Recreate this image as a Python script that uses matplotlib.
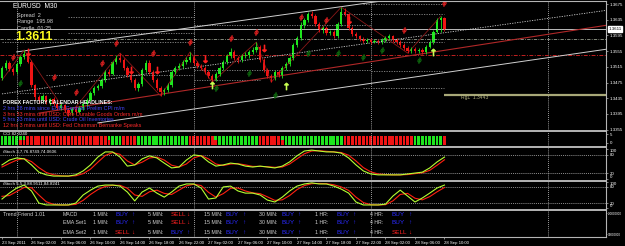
import numpy as np
import matplotlib
matplotlib.use("Agg")
import matplotlib.pyplot as plt
from matplotlib.lines import Line2D

plt.rcParams['font.family'] = ['Liberation Sans', 'DejaVu Sans']

# EURUSD M30 candles, bar 0 = 23 Sep 22:00
open_ = [1.3486, 1.3512, 1.3525, 1.3509, 1.3502, 1.3522, 1.3540, 1.3548, 1.3527, 1.3469,
         1.3438, 1.3430, 1.3441, 1.3425, 1.3433, 1.3420, 1.3410, 1.3418, 1.3405, 1.3397,
         1.3407, 1.3400, 1.3410, 1.3420, 1.3430, 1.3448, 1.3461, 1.3466, 1.3481, 1.3502,
         1.3497, 1.3527, 1.3537, 1.3532, 1.3512, 1.3494, 1.3481, 1.3461, 1.3471, 1.3507,
         1.3525, 1.3502, 1.3481, 1.3461, 1.3451, 1.3456, 1.3469, 1.3502, 1.3512, 1.3517,
         1.3527, 1.3532, 1.3540, 1.3525, 1.3517, 1.3512, 1.3502, 1.3492, 1.3481, 1.3497,
         1.3512, 1.3527, 1.3543, 1.3553, 1.3537, 1.3532, 1.3543, 1.3545, 1.3553, 1.3558,
         1.3565, 1.3532, 1.3507, 1.3492, 1.3486, 1.3502, 1.3494, 1.3512, 1.3522, 1.3537,
         1.3571, 1.3588, 1.3621, 1.3634, 1.3650, 1.3644, 1.3624, 1.3609, 1.3614, 1.3601,
         1.3604, 1.3593, 1.3624, 1.3655, 1.3650, 1.3614, 1.3599, 1.3593, 1.3586, 1.3581,
         1.3583, 1.3578, 1.3581, 1.3578, 1.3583, 1.3588, 1.3593, 1.3583, 1.3578, 1.3571,
         1.3563, 1.3555, 1.3560, 1.3555, 1.3558, 1.3553, 1.3565, 1.3578, 1.3604, 1.3634,
         1.3639]
high = [1.3517, 1.3532, 1.3530, 1.3514, 1.3527, 1.3545, 1.3558, 1.3555, 1.3532, 1.3471,
        1.3443, 1.3446, 1.3443, 1.3436, 1.3438, 1.3425, 1.3423, 1.3420, 1.3410, 1.3413,
        1.3415, 1.3415, 1.3425, 1.3436, 1.3453, 1.3466, 1.3471, 1.3486, 1.3507, 1.3509,
        1.3530, 1.3545, 1.3550, 1.3537, 1.3517, 1.3499, 1.3486, 1.3476, 1.3512, 1.3532,
        1.3532, 1.3507, 1.3486, 1.3466, 1.3461, 1.3474, 1.3507, 1.3517, 1.3525, 1.3532,
        1.3540, 1.3553, 1.3545, 1.3530, 1.3522, 1.3517, 1.3507, 1.3497, 1.3502, 1.3517,
        1.3532, 1.3548, 1.3563, 1.3558, 1.3543, 1.3548, 1.3553, 1.3558, 1.3565, 1.3578,
        1.3571, 1.3537, 1.3512, 1.3497, 1.3507, 1.3507, 1.3517, 1.3527, 1.3543, 1.3576,
        1.3593, 1.3629, 1.3639, 1.3655, 1.3657, 1.3650, 1.3629, 1.3619, 1.3619, 1.3609,
        1.3609, 1.3629, 1.3667, 1.3665, 1.3652, 1.3619, 1.3604, 1.3596, 1.3591, 1.3588,
        1.3588, 1.3586, 1.3586, 1.3588, 1.3593, 1.3599, 1.3596, 1.3588, 1.3583, 1.3576,
        1.3568, 1.3565, 1.3565, 1.3563, 1.3563, 1.3571, 1.3583, 1.3609, 1.3639, 1.3644,
        1.3642]
low = [1.3481, 1.3507, 1.3504, 1.3494, 1.3497, 1.3517, 1.3535, 1.3525, 1.3464, 1.3430,
       1.3423, 1.3425, 1.3420, 1.3418, 1.3415, 1.3405, 1.3405, 1.3400, 1.3390, 1.3392,
       1.3395, 1.3397, 1.3405, 1.3415, 1.3428, 1.3443, 1.3456, 1.3461, 1.3476, 1.3492,
       1.3494, 1.3522, 1.3527, 1.3507, 1.3489, 1.3476, 1.3456, 1.3453, 1.3466, 1.3502,
       1.3497, 1.3476, 1.3456, 1.3441, 1.3443, 1.3451, 1.3464, 1.3497, 1.3507, 1.3512,
       1.3522, 1.3527, 1.3520, 1.3512, 1.3507, 1.3497, 1.3486, 1.3476, 1.3479, 1.3492,
       1.3507, 1.3522, 1.3537, 1.3532, 1.3525, 1.3527, 1.3537, 1.3537, 1.3548, 1.3553,
       1.3527, 1.3502, 1.3486, 1.3476, 1.3481, 1.3489, 1.3486, 1.3507, 1.3517, 1.3532,
       1.3565, 1.3583, 1.3614, 1.3629, 1.3639, 1.3619, 1.3604, 1.3601, 1.3596, 1.3596,
       1.3588, 1.3588, 1.3619, 1.3644, 1.3609, 1.3593, 1.3588, 1.3581, 1.3576, 1.3576,
       1.3573, 1.3576, 1.3573, 1.3573, 1.3578, 1.3583, 1.3578, 1.3573, 1.3565, 1.3558,
       1.3550, 1.3550, 1.3550, 1.3550, 1.3548, 1.3548, 1.3563, 1.3573, 1.3601, 1.3604,
       1.3606]
close = [1.3512, 1.3525, 1.3509, 1.3502, 1.3522, 1.3540, 1.3548, 1.3527, 1.3469, 1.3438,
         1.3430, 1.3441, 1.3425, 1.3433, 1.3420, 1.3410, 1.3418, 1.3405, 1.3397, 1.3407,
         1.3400, 1.3410, 1.3420, 1.3430, 1.3448, 1.3461, 1.3466, 1.3481, 1.3502, 1.3497,
         1.3527, 1.3537, 1.3532, 1.3512, 1.3494, 1.3481, 1.3461, 1.3471, 1.3507, 1.3525,
         1.3502, 1.3481, 1.3461, 1.3451, 1.3456, 1.3469, 1.3502, 1.3512, 1.3517, 1.3527,
         1.3532, 1.3540, 1.3525, 1.3517, 1.3512, 1.3502, 1.3492, 1.3481, 1.3497, 1.3512,
         1.3527, 1.3543, 1.3553, 1.3537, 1.3532, 1.3543, 1.3545, 1.3553, 1.3558, 1.3565,
         1.3532, 1.3507, 1.3492, 1.3486, 1.3502, 1.3494, 1.3512, 1.3522, 1.3537, 1.3571,
         1.3588, 1.3621, 1.3634, 1.3650, 1.3644, 1.3624, 1.3609, 1.3614, 1.3601, 1.3604,
         1.3593, 1.3624, 1.3655, 1.3650, 1.3614, 1.3599, 1.3593, 1.3586, 1.3581, 1.3583,
         1.3578, 1.3581, 1.3578, 1.3583, 1.3588, 1.3593, 1.3583, 1.3578, 1.3571, 1.3563,
         1.3555, 1.3560, 1.3555, 1.3558, 1.3553, 1.3565, 1.3578, 1.3604, 1.3634, 1.3639,
         1.3611]

bid = 1.3611
rgl = 1.3443
price_ticks = [1.3675, 1.3635, 1.3595, 1.3555, 1.3515, 1.3475, 1.3435, 1.3395, 1.3355]

# trend lines and zigzag (bar, price)
upper_chan_bar = [4, 120]
upper_chan_px = [1.3553, 1.3705]
mid_chan_bar = [0, 164]
mid_chan_px = [1.3446, 1.3659]
lower_chan_bar = [26, 164]
lower_chan_px = [1.3372, 1.3560]
red_trend_bar = [10, 164]
red_trend_px = [1.3397, 1.3621]
zz_bar = [0, 6, 18, 32, 43, 51, 57, 69, 73, 92, 110, 119]
zz_px = [1.3481, 1.3558, 1.3390, 1.3550, 1.3441, 1.3553, 1.3476, 1.3578, 1.3476, 1.3667, 1.3550, 1.3644]

# pivot levels: price, from bar, to bar
pivot_px = [1.3642, 1.3601, 1.3578, 1.3494, 1.3448, 1.3621, 1.3507, 1.3481,
            1.3675, 1.3650, 1.3578, 1.3504, 1.3461]
pivot_from = [18, 18, 0, 12, 4, 52, 52, 52, 98, 92, 100, 100, 98]
pivot_to = [52, 52, 52, 52, 16, 100, 100, 70, 120, 120, 120, 120, 120]
level_grey = 1.3586
level_red = 1.3545

# signal markers (bar, price)
sell_dot_bar = [3, 14, 20, 27, 31, 41, 51, 62, 69, 81, 88, 109, 120]
sell_dot_px = [1.3540, 1.3489, 1.3451, 1.3525, 1.3576, 1.3550, 1.3578, 1.3588, 1.3604, 1.3642, 1.3634, 1.3609, 1.3678]
sell_arr_bar = [7, 35, 42, 55, 71, 94]
sell_arr_px = [1.3553, 1.3507, 1.3507, 1.3535, 1.3563, 1.3634]
buy_arr_bar = [57, 77, 117]
buy_arr_px = [1.3469, 1.3466, 1.3553]
buy_dot_bar = [5, 58, 67, 74, 83, 91, 98, 103, 113]
buy_dot_px = [1.3474, 1.3461, 1.3499, 1.3443, 1.3550, 1.3550, 1.3540, 1.3558, 1.3532]

# CCI histogram colours per bar (G/R), upper and lower half
cci_top = ("GGGGGGG" "RRRRRRRRRRRRRRRRRRRRRR" "GGGG" "RRRR" "GGGGGGGGGGGGGG" "RRRRRRR"
           "GGGGGGGGGGGG" "RRRRRR" "GGGGGGGGGGGGGGGGG" "RRRRRRRRRRRRRRRRRRR" "GGGGGGGG" "R")
cci_bot = ("GGGGGRR" "RRRRRRRRRRRRRRRRRRRRRR" "RGGG" "RRRR" "GGGGGGGGGGGGGG" "RRRRRRR"
           "RGGGGGGGGGGG" "RRRRRR" "RGGGGGGGGGGGGGGGG" "RRRRRRRRRRRRRRRRRRR" "GGGGGGGG" "R")

# stochastics, every second bar
st_bar = list(range(0, 121, 2))
st1_main = [47, 63, 70, 67, 47, 23, 14, 10, 10, 10, 14, 27, 47, 73, 90, 90, 73, 43, 47, 67,
            77, 70, 53, 37, 40, 63, 80, 77, 57, 43, 47, 53, 50, 43, 40, 43, 40, 37, 43, 57,
            77, 93, 96, 93, 90, 90, 86, 70, 47, 27, 17, 14, 14, 14, 14, 17, 20, 23, 37, 57, 73]
st1_sig = [40, 52, 63, 68, 58, 38, 22, 14, 11, 10, 11, 18, 33, 56, 78, 88, 82, 60, 47, 56,
           70, 73, 63, 46, 40, 50, 70, 78, 67, 50, 45, 50, 51, 47, 42, 42, 41, 39, 40, 50,
           67, 84, 93, 94, 92, 90, 88, 79, 60, 38, 24, 17, 15, 14, 14, 15, 18, 21, 29, 46, 64]
st2_main = [35, 57, 76, 87, 65, 20, 13, 13, 13, 13, 20, 50, 68, 83, 87, 87, 83, 61, 28, 61,
            76, 57, 42, 61, 83, 91, 91, 76, 35, 39, 80, 83, 65, 57, 57, 50, 31, 24, 42, 65,
            83, 91, 95, 91, 91, 83, 72, 57, 24, 13, 13, 13, 16, 46, 68, 46, 24, 39, 57, 76, 87]
st2_sig = [45, 48, 63, 78, 77, 50, 25, 15, 13, 13, 15, 30, 52, 70, 82, 86, 86, 75, 50, 45,
           62, 68, 56, 52, 68, 84, 90, 85, 60, 42, 55, 75, 76, 65, 58, 55, 43, 30, 32, 48,
           70, 85, 92, 93, 92, 88, 80, 67, 42, 22, 14, 13, 14, 28, 52, 56, 38, 32, 44, 62, 78]

time_ticks = [0, 8, 16, 24, 32, 40, 48, 56, 64, 72, 80, 88, 96, 104, 112, 120]
time_labels = ["23 Sep 2011", "26 Sep 02:00", "26 Sep 06:00", "26 Sep 10:00", "26 Sep 14:00",
               "26 Sep 18:00", "26 Sep 22:00", "27 Sep 02:00", "27 Sep 06:00", "27 Sep 10:00",
               "27 Sep 14:00", "27 Sep 18:00", "27 Sep 22:00", "28 Sep 02:00", "28 Sep 06:00",
               "28 Sep 10:00"]
day_breaks = [4, 52, 100, 148]

headlines = ["2 hrs 28 mins since EUR: German Prelim CPI m/m",
             "3 hrs 33 mins until USD: Core Durable Goods Orders m/m",
             "5 hrs 33 mins until USD: Crude Oil Inventories",
             "12 hrs 3 mins until USD: Fed Chairman Bernanke Speaks"]
headline_kind = ["past", "soon", "past", "soon"]

trend_rows = ["MACD", "EMA Set1", "EMA Set2"]
trend_frames = ["1 MIN:", "5 MIN:", "15 MIN:", "30 MIN:", "1 HR:", "4 HR:"]
trend_signals = [["BUY", "SELL", "BUY", "BUY", "BUY", "BUY"],
                 ["BUY", "SELL", "BUY", "BUY", "BUY", "BUY"],
                 ["SELL", "BUY", "BUY", "BUY", "BUY", "SELL"]]

GREEN = '#1ee61e'
RED = '#f01414'
GRID = '#b4b4b4'
W, H = 625, 246
XL = (-0.54, 163.8)

fig = plt.figure(figsize=(6.25, 2.46), dpi=100, facecolor='black')


def rect(y0, y1, x0=0, x1=606):
    return [x0 / W, 1 - y1 / H, (x1 - x0) / W, (y1 - y0) / H]


def ftext(x, y, s, **kw):
    kw.setdefault('va', 'center')
    fig.text(x / W, 1 - y / H, s, **kw)


def panel(y0, y1):
    ax = fig.add_axes(rect(y0, y1))
    ax.set_facecolor('black')
    ax.set_xlim(*XL)
    for s in ['left', 'top', 'bottom']:
        ax.spines[s].set_visible(False)
    ax.spines['right'].set_color(GRID)
    ax.spines['right'].set_linewidth(0.8)
    ax.set_xticks([])
    ax.yaxis.tick_right()
    ax.tick_params(axis='y', colors=GRID, labelcolor='white', labelsize=3.2, length=1.5,
                   width=0.5, pad=1)
    for d in day_breaks:
        ax.axvline(d, color='#d0d0d0', lw=0.6, ls=(0, (1, 1.5)))
    return ax


# ---------------- main price panel ----------------
main = panel(1, 130)
main.set_ylim(1.33540, 1.36827)
main.set_yticks(price_ticks)
main.set_yticklabels(["%.4f" % p for p in price_ticks])
main.spines['top'].set_visible(True)
main.spines['top'].set_color(GRID)

for p, b0, b1 in zip(pivot_px, pivot_from, pivot_to):
    main.hlines(p, b0, b1, color='#8c8c8c', lw=0.6, ls=(0, (1.5, 1.5)))
main.axhline(level_grey, color='#9aa090', lw=0.6, ls=(0, (4, 1.5, 1, 1.5)))
main.axhline(level_red, color='#c02020', lw=0.7, ls=(0, (4, 1.5, 1, 1.5)))
main.axhline(bid, color='#d8d8d8', lw=0.6)

main.plot(upper_chan_bar, upper_chan_px, color='#d0d0d0', lw=0.7)
main.plot(mid_chan_bar, mid_chan_px, color='#d0d0d0', lw=0.6, ls=(0, (1.5, 1.5)))
main.plot(lower_chan_bar, lower_chan_px, color='#d0d0d0', lw=0.7)
main.plot(red_trend_bar, red_trend_px, color='#b02828', lw=0.8)
main.plot(zz_bar, zz_px, color='#8a1818', lw=0.6)

o = np.array(open_)
c = np.array(close)
bars = np.arange(len(c))
cols = np.where(c >= o, GREEN, RED)
main.vlines(bars, low, high, colors=cols, lw=0.6)
main.bar(bars, np.maximum(np.abs(c - o), 0.00004), bottom=np.minimum(o, c), width=0.62,
         color=cols, lw=0)

main.plot(sell_dot_bar, sell_dot_px, ls='none', marker=r'$\phi$', ms=4.5, color='#e02020', mew=0.3)
main.plot(sell_arr_bar, sell_arr_px, ls='none', marker=r'$\downarrow$', ms=5, color='#ff2020', mew=0.6)
main.plot(buy_arr_bar, buy_arr_px, ls='none', marker=r'$\uparrow$', ms=5, color='#c8ff50', mew=0.6)
main.plot(buy_dot_bar, buy_dot_px, ls='none', marker=r'$\phi$', ms=4.5, color='#0e6a0e', mew=0.3)

main.hlines(rgl, 120, XL[1], color='#a8a878', lw=1.6)
main.text(124.5, rgl - 0.0001, "RgL  %.4f" % rgl, color='#b0b080', fontsize=3.6, va='top')
main.text(1.004, bid, "%.4f" % bid, transform=main.get_yaxis_transform(), fontsize=3.2,
          color='black', va='center', ha='left',
          bbox=dict(boxstyle='square,pad=0.15', fc='white', ec='white'))

ftext(13, 7, "EURUSD  M30", color='white', fontsize=4.8)
ftext(17, 15, "Spread  2", color='#d0d0d0', fontsize=4)
ftext(17, 21.5, "Range  195.98", color='#d0d0d0', fontsize=4)
ftext(17, 28, "Candle  01:25", color='#d0d0d0', fontsize=4)
ftext(15, 37, "1.3611", color='#ffff20', fontsize=8.8, weight='bold')

ftext(3, 103, "FOREX FACTORY CALENDAR HEADLINES:", color='white', fontsize=3.8, weight='bold')
for i, (s, k) in enumerate(zip(headlines, headline_kind)):
    ftext(3, 108.8 + 5.5 * i, s, color='#4646ff' if k == "past" else '#ff2a2a', fontsize=3.9)

# ---------------- CCI strip ----------------
cci = panel(131, 146)
cci.set_ylim(0, 1)
cci.set_yticks([0.8, 0.2])
cci.set_yticklabels(["5", "0"])
cci.bar(bars, 0.3, bottom=0.37, width=0.75, lw=0,
        color=[GREEN if t == "G" else RED for t in cci_top])
cci.bar(bars, 0.3, bottom=0.07, width=0.75, lw=0,
        color=[GREEN if t == "G" else RED for t in cci_bot])
cci.text(0.3, 0.96, "CCI 82.0240", color='white', fontsize=3.2, va='top')

# ---------------- stochastics ----------------
s1 = panel(148, 180)
s1.set_ylim(-3, 103)
s1.set_yticks([100, 80, 20, 0])
s1.set_yticklabels(["100", "80", "20", "0"])
s1.get_yticklabels()[0].set_va('top')
s1.get_yticklabels()[3].set_va('bottom')
for lv in (20, 80):
    s1.axhline(lv, color='#c0c0c0', lw=0.5, ls=(0, (1.5, 1.5)))
s1.plot(st_bar, st1_sig, color='#ff2010', lw=0.8)
s1.plot(st_bar, st1_main, color='#b4ff32', lw=0.8)
s1.text(0.3, 99, "iStoch 3,7,76.8749,74.0606", color='white', fontsize=3.2, va='top')

s2 = panel(181, 209)
s2.set_ylim(-2, 102)
s2.set_yticks([100, 80, 20, 0])
s2.set_yticklabels(["100", "80", "20", "0"])
s2.get_yticklabels()[0].set_va('top')
s2.get_yticklabels()[3].set_va('bottom')
for lv in (20, 80):
    s2.axhline(lv, color='#c0c0c0', lw=0.5, ls=(0, (1.5, 1.5)))
s2.plot(st_bar, st2_sig, color='#ff2010', lw=0.8)
s2.plot(st_bar, st2_main, color='#b4ff32', lw=0.8)
s2.text(0.3, 99, "iStoch 5,5,3,88.9511,84.8241", color='white', fontsize=3.2, va='top')

# ---------------- Trend Friend panel + time axis ----------------
tf = panel(210, 237)
tf.set_ylim(0, 1)
tf.set_yticks([0.88, 0.1])
tf.set_yticklabels(["-90000000", "90000000"])
tf.tick_params(axis='y', labelsize=2.2, pad=0.5, length=1)
tf.spines['bottom'].set_visible(True)
tf.spines['bottom'].set_color(GRID)
tf.set_xticks(time_ticks)
tf.set_xticklabels(time_labels, ha='left')
tf.tick_params(axis='x', colors=GRID, labelcolor='white', labelsize=3.1, length=1.5,
               width=0.5, pad=1.2)

ftext(3, 214, "Trend Friend 1.01", color='#d0d0d0', fontsize=3.8)
for r, (name, sigs) in enumerate(zip(trend_rows, trend_signals)):
    yy = 214 + 9 * r
    ftext(63, yy, name, color='#d0d0d0', fontsize=3.8)
    for k, (fr, sg) in enumerate(zip(trend_frames, sigs)):
        x0 = 93 + 55.4 * k
        ftext(x0, yy, fr, color='#d0d0d0', fontsize=3.8)
        colr = '#2a2aff' if sg == "BUY" else '#ff2020'
        ftext(x0 + 22, yy, sg, color=colr, fontsize=4.6)
        ftext(x0 + 38, yy, "\u2191" if sg == "BUY" else "\u2193", color=colr, fontsize=4.6,
              weight='bold')

# panel separators
for yy in (130.5, 147, 180.5, 209.5):
    fig.add_artist(Line2D([0, 606 / W], [1 - yy / H, 1 - yy / H], color=GRID, lw=1.4))

fig.savefig("out.png", dpi=100, facecolor='black')
